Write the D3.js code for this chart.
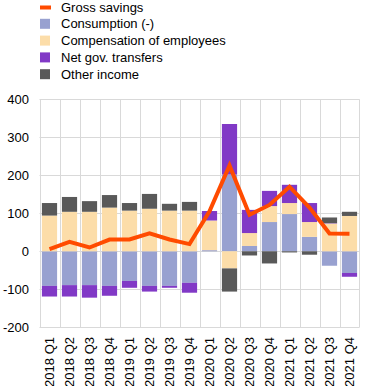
<!DOCTYPE html>
<html><head><meta charset="utf-8">
<script src="https://cdn.jsdelivr.net/npm/d3@7"></script>
<style>body{margin:0;background:#fff}svg{display:block;font-family:"Liberation Sans",Arial,sans-serif}</style>
</head><body><svg id="c" width="371" height="386"></svg>
<script>
const categories = ["2018 Q1","2018 Q2","2018 Q3","2018 Q4","2019 Q1","2019 Q2","2019 Q3","2019 Q4","2020 Q1","2020 Q2","2020 Q3","2020 Q4","2021 Q1","2021 Q2","2021 Q3","2021 Q4"];
const consumption = [-91,-89,-89,-91,-78,-91,-91,-83,3,202,14,77,98,38,-38,-57];
const compensation = [94,104,104,115,107,112,107,107,78,-45,34,42,29,39,73,93];
const govTransfers = [-28,-30,-33,-26,-18,-15,-5,-26,25,133,61,40,48,50,1,-10];
const otherIncome = [33,39,28,33,20,39,18,23,0,-61,-11,-32,-3,-9,15,11];
const grossSavings = [6,25,10,31,31,47,31,19,105,226,96,122,170,115,47,46];
const yTicks = [400,300,200,100,0,-100,-200];

const series = [
  {name:"Consumption (-)", values:consumption, color:"#98a1d0"},
  {name:"Compensation of employees", values:compensation, color:"#fcdda9"},
  {name:"Net gov. transfers", values:govTransfers, color:"#8139c6"},
  {name:"Other income", values:otherIncome, color:"#595959"}
];

const svg = d3.select("#c");
const x = d3.scaleBand().domain(categories).range([39.5, 359.5]).paddingInner(0.24).paddingOuter(0.12);
const xg = d3.scaleBand().domain(categories).range([39.5, 359.5]);
const y = d3.scaleLinear().domain([-200, 400]).range([327.3, 99.3]);

const grid = svg.append("g");
yTicks.forEach(t => grid.append("line").attr("x1",39.5).attr("x2",359.5)
  .attr("y1",Math.round(y(t))+0.5).attr("y2",Math.round(y(t))+0.5).attr("stroke","#d9d9d9"));
categories.forEach(c => grid.append("line").attr("x1",Math.round(xg(c))+0.5).attr("x2",Math.round(xg(c))+0.5)
  .attr("y1",y(400)).attr("y2",y(-200)).attr("stroke","#d9d9d9"));
grid.append("line").attr("x1",359.5).attr("x2",359.5).attr("y1",y(400)).attr("y2",y(-200)).attr("stroke","#d9d9d9");

// stacking with positive/negative separation
const pos = categories.map(()=>0), neg = categories.map(()=>0);
const bars = svg.append("g");
series.forEach(s => {
  categories.forEach((c,i) => {
    const v = s.values[i];
    let y0, y1;
    if (v >= 0) { y0 = pos[i]; y1 = pos[i] + v; pos[i] = y1; }
    else { y0 = neg[i]; y1 = neg[i] + v; neg[i] = y1; }
    if (v === 0) return;
    bars.append("rect").attr("x", x(c)).attr("width", x.bandwidth())
      .attr("y", y(Math.max(y0,y1))).attr("height", Math.abs(y(y0)-y(y1)))
      .attr("fill", s.color);
  });
});

const line = d3.line().x((d,i)=>xg(categories[i])+xg.bandwidth()/2).y(d=>y(d));
svg.append("path").datum(grossSavings).attr("d", line).attr("fill","none")
  .attr("stroke","#ff4b00").attr("stroke-width",4).attr("stroke-linejoin","miter");

// y axis labels
svg.append("g").selectAll("text").data(yTicks).join("text")
  .attr("x", 29).attr("y", d=>y(d)).attr("dy","0.35em").attr("text-anchor","end")
  .attr("font-size", 13).attr("fill","#000").text(d=>d);

// x labels
svg.append("g").selectAll("text").data(categories).join("text")
  .attr("transform", d=>`translate(${xg(d)+xg.bandwidth()/2},337) rotate(-90)`)
  .attr("dy","0.35em").attr("text-anchor","end").attr("font-size",13).attr("fill","#000").text(d=>d);

// legend
const leg = [{name:"Gross savings", color:"#ff4b00", line:true}].concat(series);
const lg = svg.append("g");
leg.forEach((d,i) => {
  const cy = 7 + i*16.8;
  if (d.line) lg.append("rect").attr("x",40).attr("y",cy-1.5).attr("width",11).attr("height",4).attr("fill",d.color);
  else lg.append("rect").attr("x",40).attr("y",cy-5).attr("width",10).attr("height",10).attr("fill",d.color);
  lg.append("text").attr("x",61).attr("y",cy).attr("dy","0.35em").attr("font-size",13).attr("fill","#000").text(d.name);
});
</script></body></html>
